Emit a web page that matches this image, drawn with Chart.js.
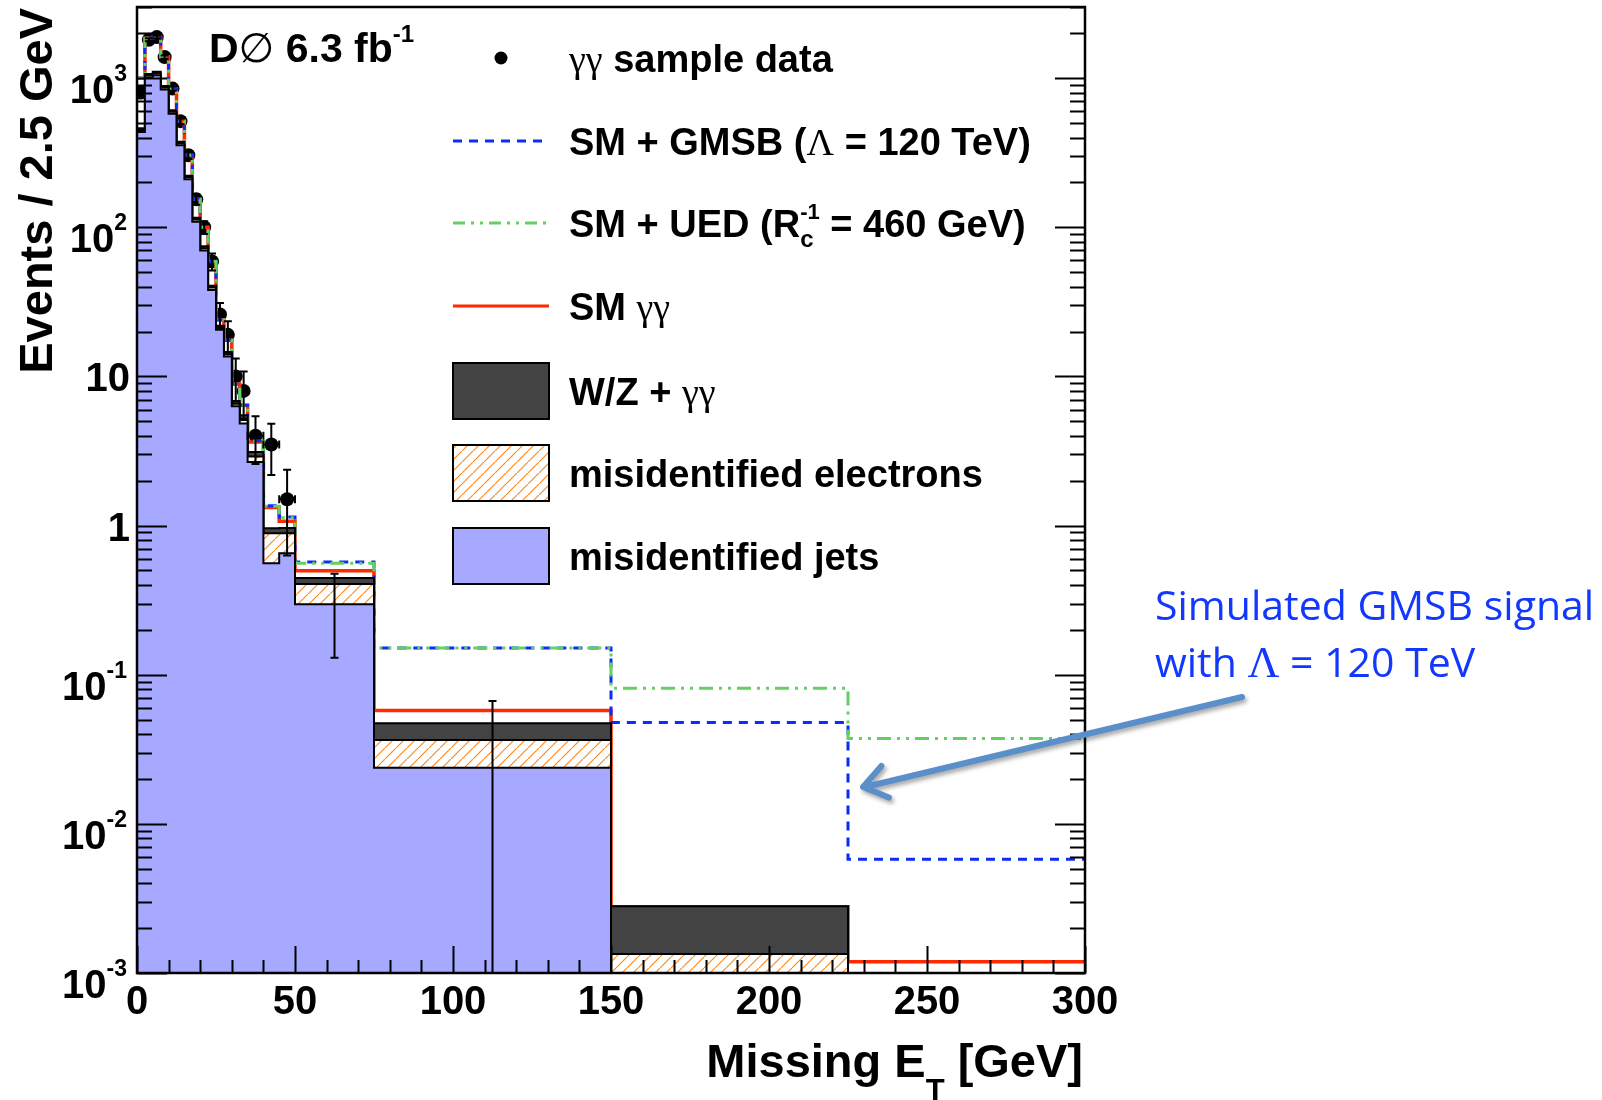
<!DOCTYPE html>
<html>
<head>
<meta charset="utf-8">
<script src="https://cdn.jsdelivr.net/npm/chart.js@4.4.1/dist/chart.umd.min.js"></script>
<style>
  html, body { margin: 0; padding: 0; background: #fff; overflow: hidden; }
  #plot { display: block; }
</style>
</head>
<body>
<canvas id="plot" width="1602" height="1100"></canvas>
<script>
// bin edges in GeV (variable width bins)
const binEdges = [0, 2.5, 5, 7.5, 10, 12.5, 15, 17.5, 20, 22.5, 25, 27.5, 30, 32.5, 35, 40, 45, 50, 75, 150, 225, 300];

// stacked background tops, events / 2.5 GeV
const jetsTop      = [436, 1010, 1047, 838, 578, 355, 210, 109, 70, 38, 20.6, 13.6, 6.31, 4.83, 2.67, 0.56, 0.653, 0.297, 0.0238, 0.0005, 0.0005];
const electronsTop = [450, 1040, 1080, 865, 596, 366, 217, 113, 72.5, 39.5, 21.3, 14.1, 6.55, 5.10, 2.90, 0.89, 0.889, 0.405, 0.0365, 0.00134, 0.0008];
const wzTop        = [462, 1065, 1105, 885, 610, 375, 222, 116, 74.5, 40.5, 21.9, 14.6, 6.85, 5.49, 3.12, 0.96, 0.962, 0.446, 0.0472, 0.0028, 0.0009];
const smTotal      = [1000, 1850, 1880, 1390, 850, 515, 304, 154, 100, 59, 24, 17.5, 8.9, 6.4, 3.64, 1.32, 1.07, 0.497, 0.0576, 0.00278, 0.00119];
const smPlusGmsb   = [1000, 1850, 1880, 1390, 850, 515, 304, 154, 100, 59, 24, 17.5, 8.9, 6.4, 3.70, 1.36, 1.14, 0.569, 0.151, 0.0478, 0.00578];
const smPlusUed    = [1000, 1850, 1880, 1390, 850, 515, 304, 154, 100, 59, 24, 17.5, 8.9, 6.4, 3.68, 1.35, 1.13, 0.560, 0.151, 0.081, 0.0374];

// gamma gamma data
const dataX    = [1.25, 3.75, 6.25, 8.75, 11.25, 13.75, 16.25, 18.75, 21.25, 23.75, 26.25, 28.75, 31.25, 33.75, 37.5, 42.5, 47.5, 62.5, 112.5];
const dataY    = [800, 1811, 1885, 1384, 851, 515, 304, 154, 100, 59, 26, 19, 10, 8, 4, 3.5, 1.5, 0.303, 0.0333];
const dataErr  = [28, 43, 43, 37, 29, 23, 17, 12.4, 10, 7.7, 5.1, 4.4, 3.2, 2.8, 1.41, 1.32, 0.87, 0.173, 0.0333];
const dataXErr = [0, 0, 0, 0, 0, 0, 0, 0, 0, 0, 0, 0, 0, 0, 2.5, 2.5, 2.5, 0, 0];

// axes
const xTicks = [0, 50, 100, 150, 200, 250, 300];
const yTicks = [1e-3, 1e-2, 1e-1, 1, 10, 100, 1000];
const yTickBase = ['10', '10', '10', '1', '10', '10', '10'];
const yTickExp  = ['-3', '-2', '-1', '', '', '2', '3'];

const SANS = '"Liberation Sans", Arial, Helvetica, sans-serif';
const SYM = '"Liberation Serif", "DejaVu Serif", serif';
const bold = s => 'bold ' + s + 'px ' + SANS;
const sym = s => s + 'px ' + SYM;

const JETS_BLUE = '#a7a8ff';
const WZ_GREY = '#434343';
const SM_RED = '#ff2a00';
const GMSB_BLUE = '#0b2cff';
const UED_GREEN = '#62d062';
const HATCH_ORANGE = '#ff8a1c';

function histPoints(values) {
    const pts = values.map((v, i) => ({x: binEdges[i], y: v}));
    pts.push({x: binEdges[binEdges.length - 1], y: values[values.length - 1]});
    return pts;
}

function makeHatch() {
    const c = document.createElement('canvas');
    c.width = 11; c.height = 11;
    const g = c.getContext('2d');
    g.fillStyle = '#fff';
    g.fillRect(0, 0, 11, 11);
    g.strokeStyle = HATCH_ORANGE;
    g.lineWidth = 1.2;
    g.beginPath();
    g.moveTo(-1, 12); g.lineTo(12, -1);
    g.stroke();
    return document.getElementById('plot').getContext('2d').createPattern(c, 'repeat');
}
const hatch = makeHatch();

// draw text made of pieces (superscripts, subscripts, symbol font)
function rich(ctx, parts, x, y, align) {
    let total = 0, pend = 0;
    parts.forEach(p => { ctx.font = p.f; p.w = ctx.measureText(p.t).width; });
    parts.forEach(p => {
        if (p.hold) pend = Math.max(pend, p.w);
        else { total += Math.max(pend, p.w); pend = 0; }
    });
    let cx = align === 'right' ? x - total : (align === 'center' ? x - total / 2 : x);
    pend = 0;
    ctx.textAlign = 'left';
    ctx.textBaseline = 'alphabetic';
    parts.forEach(p => {
        ctx.font = p.f;
        ctx.fillText(p.t, cx, y + (p.dy || 0));
        if (p.hold) pend = Math.max(pend, p.w);
        else { cx += Math.max(pend, p.w); pend = 0; }
    });
}

// root style frame, inner ticks and labels
const axesPlugin = {
    id: 'rootAxes',
    afterDatasetsDraw(chart) {
        const ctx = chart.ctx, a = chart.chartArea;
        const xs = chart.scales.x, ys = chart.scales.y;
        ctx.save();
        ctx.strokeStyle = '#000';
        ctx.lineWidth = 2;
        ctx.beginPath();
        for (let k = -3; k <= 3; k++) {
            for (let m = 1; m <= 9; m++) {
                const v = m * Math.pow(10, k);
                if (v < ys.min || v > ys.max) continue;
                const py = Math.round(ys.getPixelForValue(v)) + 0.5;
                const len = m === 1 ? 30 : 15;
                ctx.moveTo(a.left, py); ctx.lineTo(a.left + len, py);
                ctx.moveTo(a.right, py); ctx.lineTo(a.right - len, py);
            }
        }
        for (let v = 0; v <= 300; v += 10) {
            const px = Math.round(xs.getPixelForValue(v)) + 0.5;
            const len = v % 50 === 0 ? 27 : 13;
            ctx.moveTo(px, a.bottom); ctx.lineTo(px, a.bottom - len);
        }
        ctx.stroke();
        ctx.lineWidth = 2.5;
        ctx.strokeRect(a.left, a.top, a.right - a.left, a.bottom - a.top);
        ctx.restore();
    },
    afterDraw(chart) {
        const ctx = chart.ctx;
        const xs = chart.scales.x, ys = chart.scales.y;
        ctx.save();
        ctx.fillStyle = '#000';
        xTicks.forEach(v => {
            rich(ctx, [{t: String(v), f: bold(40)}], xs.getPixelForValue(v), 1014, 'center');
        });
        yTicks.forEach((v, i) => {
            const py = ys.getPixelForValue(v);
            if (yTickExp[i]) {
                rich(ctx, [{t: yTickBase[i], f: bold(40)}, {t: yTickExp[i], f: bold(23), dy: -22}], 127, py + 25, 'right');
            } else {
                rich(ctx, [{t: yTickBase[i], f: bold(40)}], 130, py + 15, 'right');
            }
        });
        // axis titles
        rich(ctx, [{t: 'Missing E', f: bold(47)}, {t: 'T', f: bold(31), dy: 24}, {t: ' [GeV]', f: bold(47)}], 1083, 1077, 'right');
        ctx.save();
        ctx.translate(52, 8);
        ctx.rotate(-Math.PI / 2);
        rich(ctx, [{t: 'Events / 2.5 GeV', f: bold(47)}], 0, 0, 'right');
        ctx.restore();
        // experiment label
        rich(ctx, [{t: 'D', f: bold(41)}, {t: '\u2205', f: '41px "DejaVu Sans", sans-serif'}, {t: ' 6.3 fb', f: bold(41)}, {t: '-1', f: bold(24), dy: -20}], 209, 62, 'left');

        // legend
        const lx0 = 453, lx1 = 549, tx = 569;
        const rows = [58, 141, 223, 306, 391, 473, 556];
        ctx.beginPath();
        ctx.arc(501, rows[0], 6.5, 0, Math.PI * 2);
        ctx.fill();
        ctx.lineWidth = 3;
        ctx.strokeStyle = GMSB_BLUE;
        ctx.setLineDash([9, 7]);
        ctx.beginPath(); ctx.moveTo(lx0, rows[1]); ctx.lineTo(lx1, rows[1]); ctx.stroke();
        ctx.strokeStyle = UED_GREEN;
        ctx.setLineDash([12, 6, 3, 6, 3, 6]);
        ctx.beginPath(); ctx.moveTo(lx0, rows[2]); ctx.lineTo(lx1, rows[2]); ctx.stroke();
        ctx.setLineDash([]);
        ctx.strokeStyle = SM_RED;
        ctx.beginPath(); ctx.moveTo(lx0, rows[3]); ctx.lineTo(lx1, rows[3]); ctx.stroke();
        [[WZ_GREY, rows[4]], [hatch, rows[5]], [JETS_BLUE, rows[6]]].forEach(([fill, cy]) => {
            ctx.fillStyle = fill;
            ctx.fillRect(lx0, cy - 28, lx1 - lx0, 56);
            ctx.strokeStyle = '#000';
            ctx.lineWidth = 2;
            ctx.strokeRect(lx0, cy - 28, lx1 - lx0, 56);
        });
        ctx.fillStyle = '#000';
        const T = 38;
        rich(ctx, [{t: '\u03b3\u03b3', f: sym(T)}, {t: ' sample data', f: bold(T)}], tx, rows[0] + 14, 'left');
        rich(ctx, [{t: 'SM + GMSB (', f: bold(T)}, {t: '\u039b', f: sym(T)}, {t: ' = 120 TeV)', f: bold(T)}], tx, rows[1] + 14, 'left');
        rich(ctx, [{t: 'SM + UED (R', f: bold(T)}, {t: '-1', f: bold(22), dy: -18, hold: true}, {t: 'c', f: bold(24), dy: 10}, {t: ' = 460 GeV)', f: bold(T)}], tx, rows[2] + 14, 'left');
        rich(ctx, [{t: 'SM ', f: bold(T)}, {t: '\u03b3\u03b3', f: sym(T)}], tx, rows[3] + 14, 'left');
        rich(ctx, [{t: 'W/Z + ', f: bold(T)}, {t: '\u03b3\u03b3', f: sym(T)}], tx, rows[4] + 14, 'left');
        rich(ctx, [{t: 'misidentified electrons', f: bold(T)}], tx, rows[5] + 14, 'left');
        rich(ctx, [{t: 'misidentified jets', f: bold(T)}], tx, rows[6] + 14, 'left');

        // annotation with arrow
        ctx.fillStyle = '#1238ff';
        rich(ctx, [{t: 'Simulated GMSB signal', f: '41px "Open Sans", sans-serif'}], 1155, 620, 'left');
        rich(ctx, [{t: 'with ', f: '41px "Open Sans", sans-serif'}, {t: '\u039b', f: sym(44)}, {t: ' = 120 TeV', f: '41px "Open Sans", sans-serif'}], 1155, 677, 'left');
        const tail = {x: 1242, y: 697}, tip = {x: 863, y: 787};
        const ang = Math.atan2(tail.y - tip.y, tail.x - tip.x);
        ctx.shadowColor = 'rgba(0,0,0,0.35)';
        ctx.shadowBlur = 4;
        ctx.shadowOffsetX = 2;
        ctx.shadowOffsetY = 3;
        ctx.strokeStyle = '#5b8fca';
        ctx.lineWidth = 6;
        ctx.lineCap = 'round';
        ctx.lineJoin = 'round';
        ctx.beginPath();
        ctx.moveTo(tail.x, tail.y); ctx.lineTo(tip.x + 2, tip.y);
        ctx.moveTo(tip.x + 28 * Math.cos(ang + 0.62), tip.y + 28 * Math.sin(ang + 0.62));
        ctx.lineTo(tip.x, tip.y);
        ctx.lineTo(tip.x + 28 * Math.cos(ang - 0.62), tip.y + 28 * Math.sin(ang - 0.62));
        ctx.stroke();
        ctx.restore();
    }
};

// error bars for the data points
const errorBarPlugin = {
    id: 'errorBars',
    afterDatasetsDraw(chart) {
        const ctx = chart.ctx, xs = chart.scales.x, ys = chart.scales.y, a = chart.chartArea;
        ctx.save();
        ctx.beginPath();
        ctx.rect(a.left, a.top, a.right - a.left, a.bottom - a.top);
        ctx.clip();
        ctx.strokeStyle = '#000';
        ctx.lineWidth = 2;
        ctx.beginPath();
        dataX.forEach((x, i) => {
            const px = xs.getPixelForValue(x);
            const lo = dataY[i] - dataErr[i];
            const pLo = lo > ys.min ? ys.getPixelForValue(lo) : a.bottom + 5;
            const pHi = ys.getPixelForValue(dataY[i] + dataErr[i]);
            const py = ys.getPixelForValue(dataY[i]);
            ctx.moveTo(px, pLo); ctx.lineTo(px, pHi);
            ctx.moveTo(px - 4, pHi); ctx.lineTo(px + 4, pHi);
            ctx.moveTo(px - 4, pLo); ctx.lineTo(px + 4, pLo);
            if (dataXErr[i] > 0) {
                const pl = xs.getPixelForValue(x - dataXErr[i]);
                const pr = xs.getPixelForValue(x + dataXErr[i]);
                ctx.moveTo(pl, py); ctx.lineTo(pr, py);
                ctx.moveTo(pl, py - 4); ctx.lineTo(pl, py + 4);
                ctx.moveTo(pr, py - 4); ctx.lineTo(pr, py + 4);
            }
        });
        ctx.stroke();
        ctx.restore();
    }
};

const histLine = {stepped: true, pointRadius: 0, tension: 0, borderWidth: 2, borderColor: '#000'};

const ctx = document.getElementById('plot').getContext('2d');
const chart = new Chart(ctx, {
    type: 'line',
    data: {
        datasets: [
            Object.assign({label: 'misidentified jets', data: histPoints(jetsTop), fill: 'start', backgroundColor: JETS_BLUE}, histLine),
            Object.assign({label: 'misidentified electrons', data: histPoints(electronsTop), fill: 0, backgroundColor: hatch}, histLine),
            Object.assign({label: 'W/Z + gg', data: histPoints(wzTop), fill: 1, backgroundColor: WZ_GREY}, histLine),
            Object.assign({}, histLine, {label: 'SM + UED', data: histPoints(smPlusUed), fill: false, borderColor: UED_GREEN, borderWidth: 3, borderDash: [14, 6, 3, 6, 3, 6]}),
            Object.assign({}, histLine, {label: 'SM + GMSB', data: histPoints(smPlusGmsb), fill: false, borderColor: GMSB_BLUE, borderWidth: 3, borderDash: [9, 7]}),
            Object.assign({}, histLine, {label: 'SM gg', data: histPoints(smTotal), fill: false, borderColor: SM_RED, borderWidth: 3.5}),
            {
                label: 'gg sample data',
                data: dataX.map((x, i) => ({x: x, y: dataY[i]})),
                showLine: false,
                pointRadius: 7,
                pointHoverRadius: 7,
                pointBackgroundColor: '#000',
                pointBorderColor: '#000',
                pointBorderWidth: 0
            }
        ]
    },
    options: {
        responsive: false,
        animation: false,
        devicePixelRatio: 1,
        layout: {padding: {left: 137, top: 7, right: 1602 - 1085, bottom: 1100 - 973}},
        plugins: {legend: {display: false}, tooltip: {enabled: false}},
        elements: {line: {borderJoinStyle: 'miter'}},
        scales: {
            x: {type: 'linear', min: 0, max: 300, display: false},
            y: {type: 'logarithmic', min: 0.001, max: 3000, display: false}
        }
    },
    plugins: [errorBarPlugin, axesPlugin]
});
</script>
</body>
</html>
